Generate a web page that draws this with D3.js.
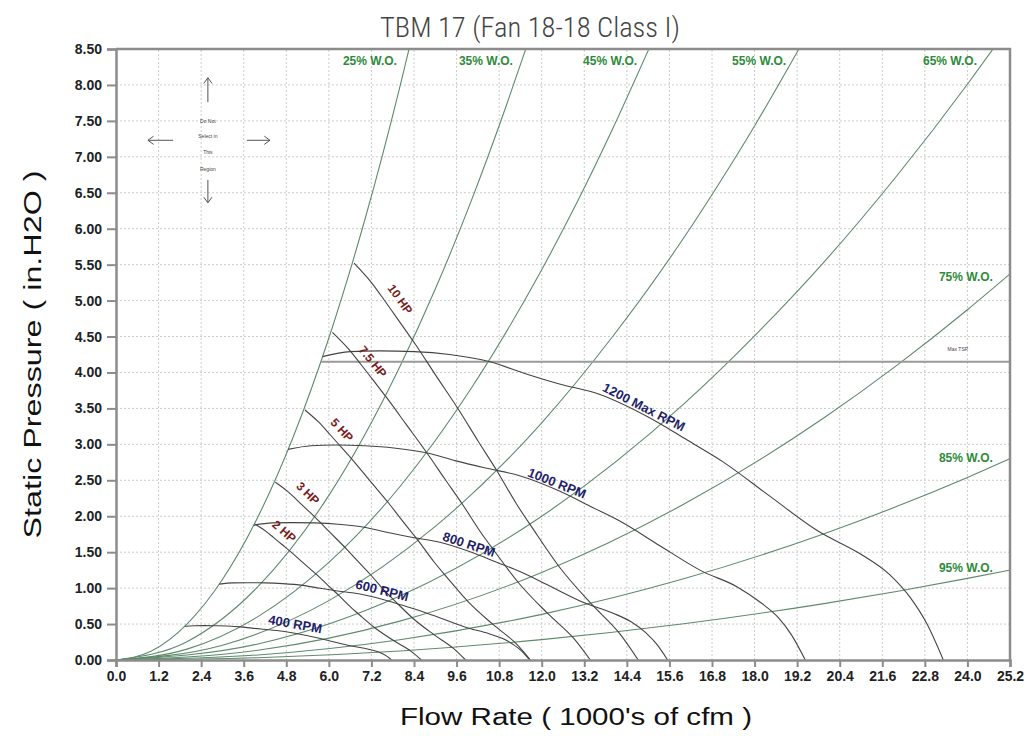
<!DOCTYPE html>
<html>
<head>
<meta charset="utf-8">
<script src="https://cdn.jsdelivr.net/npm/d3@7"></script>
<style>
  html, body { margin: 0; padding: 0; background: #fff; }
  svg { display: block; }
</style>
</head>
<body>
<svg id="chart" width="1036" height="736"></svg>
<script>
// ---------------- DATA ----------------
const chartTitle = "TBM 17 (Fan 18-18 Class I)";
const xTitle = "Flow Rate ( 1000's of cfm )";
const yTitle = "Static Pressure ( in.H2O )";

const xTickValues = [0, 1.2, 2.4, 3.6, 4.8, 6.0, 7.2, 8.4, 9.6, 10.8, 12.0, 13.2, 14.4, 15.6, 16.8, 18.0, 19.2, 20.4, 21.6, 22.8, 24.0, 25.2];
const yTickValues = [0, 0.5, 1, 1.5, 2, 2.5, 3, 3.5, 4, 4.5, 5, 5.5, 6, 6.5, 7, 7.5, 8, 8.5];

// System (wide-open) curves: [flow, pressure]
const wo25 = [[0,0],[1,0.125],[2,0.50],[3,1.12],[4,1.99],[5,3.11],[6,4.48],[7,6.10],[8,7.97],[8.26,8.50]];
const wo35 = [[0,0],[2,0.255],[4,1.02],[6,2.29],[8,4.08],[9,5.16],[10,6.37],[11,7.71],[11.55,8.50]];
const wo45 = [[0,0],[2,0.151],[4,0.603],[6,1.357],[8,2.41],[10,3.77],[12,5.43],[13,6.37],[14,7.39],[15.02,8.50]];
const wo55 = [[0,0],[3,0.206],[6,0.826],[9,1.858],[12,3.30],[14,4.50],[16,5.87],[17,6.63],[18,7.43],[19.25,8.50]];
const wo65 = [[0,0],[4,0.223],[8,0.890],[12,2.00],[16,3.56],[18,4.51],[20,5.56],[22,6.73],[24,8.01],[24.72,8.50]];
const wo75 = [[0,0],[4,0.135],[8,0.541],[12,1.218],[16,2.166],[20,3.384],[22,4.095],[24,4.873],[25.2,5.372]];
const wo85 = [[0,0],[4,0.0706],[8,0.282],[12,0.635],[16,1.129],[20,1.764],[22,2.134],[24,2.540],[25.2,2.800]];
const wo95 = [[0,0],[4,0.0315],[8,0.126],[12,0.284],[16,0.504],[20,0.788],[22,0.953],[24,1.135],[25.2,1.251]];
const woNames = ["25% W.O.", "35% W.O.", "45% W.O.", "55% W.O.", "65% W.O.", "75% W.O.", "85% W.O.", "95% W.O."];
const woLabelPos = [[7.92,8.28],[11.19,8.28],[14.69,8.28],[18.89,8.28],[24.27,8.28],[24.72,5.27],[24.72,2.75],[24.72,1.22]];

// Fan speed curves
const rpm1200 = [[5.82,4.22],[6.60,4.29],[7.44,4.30],[8.40,4.29],[9.40,4.25],[10.54,4.15],[11.50,3.99],[12.50,3.84],[13.60,3.70],[15.00,3.38],[16.10,3.06],[17.10,2.76],[18.40,2.29],[19.80,1.79],[21.00,1.47],[21.80,1.19],[22.40,0.86],[22.85,0.51],[23.32,0]];
const rpm1000 = [[4.85,2.93],[5.50,2.98],[6.20,2.99],[7.00,2.98],[7.83,2.95],[8.78,2.88],[9.58,2.77],[10.42,2.67],[11.33,2.57],[12.50,2.35],[13.42,2.125],[14.25,1.92],[15.33,1.59],[16.50,1.24],[17.50,1.02],[18.17,0.80],[18.67,0.59],[19.04,0.35],[19.43,0]];
const rpm800 = [[3.88,1.875],[4.40,1.907],[4.96,1.911],[5.60,1.907],[6.27,1.889],[7.03,1.844],[7.67,1.773],[8.33,1.707],[9.07,1.644],[10.00,1.502],[10.73,1.360],[11.40,1.227],[12.27,1.018],[13.20,0.796],[14.00,0.653],[14.53,0.529],[14.93,0.382],[15.23,0.227],[15.55,0]];
const rpm600 = [[2.91,1.055],[3.30,1.073],[3.72,1.075],[4.20,1.073],[4.70,1.063],[5.27,1.038],[5.75,0.998],[6.25,0.96],[6.80,0.925],[7.50,0.845],[8.05,0.765],[8.55,0.69],[9.20,0.573],[9.90,0.448],[10.50,0.368],[10.90,0.298],[11.20,0.215],[11.43,0.128],[11.66,0]];
const rpm400 = [[1.94,0.469],[2.20,0.477],[2.48,0.478],[2.80,0.477],[3.13,0.472],[3.51,0.461],[3.83,0.443],[4.17,0.427],[4.53,0.411],[5.00,0.376],[5.37,0.34],[5.70,0.307],[6.13,0.254],[6.60,0.199],[7.00,0.163],[7.27,0.132],[7.47,0.096],[7.62,0.057],[7.77,0]];
const rpmNames = ["1200 Max RPM", "1000 RPM", "800 RPM", "600 RPM", "400 RPM"];
const rpmLabelPos = [[14.88,3.52,27],[12.43,2.46,22],[9.95,1.61,18],[7.50,0.97,14],[5.05,0.50,10]];

// Brake horsepower curves
const hp10 = [[6.71,5.52],[7.2,5.25],[7.6,4.98],[8.0,4.70],[8.4,4.42],[9.0,3.97],[9.7,3.45],[10.2,3.05],[10.74,2.63],[11.29,2.17],[11.76,1.82],[12.52,1.28],[13.40,0.78],[14.21,0.36],[14.72,0]];
const hp75 = [[6.10,4.557],[6.54,4.334],[6.905,4.111],[7.27,3.880],[7.63,3.649],[8.18,3.277],[8.81,2.848],[9.27,2.518],[9.76,2.171],[10.26,1.791],[10.685,1.502],[11.375,1.057],[12.175,0.644],[12.91,0.297],[13.37,0]];
const hp5 = [[5.326,3.478],[5.715,3.308],[6.032,3.137],[6.35,2.961],[6.667,2.785],[7.143,2.501],[7.699,2.174],[8.096,1.922],[8.524,1.657],[8.961,1.367],[9.334,1.147],[9.937,0.806],[10.636,0.491],[11.279,0.227],[11.683,0]];
const hp3 = [[4.492,2.474],[4.820,2.353],[5.087,2.232],[5.355,2.106],[5.623,1.981],[6.025,1.779],[6.493,1.546],[6.828,1.367],[7.189,1.179],[7.558,0.972],[7.872,0.816],[8.381,0.574],[8.970,0.350],[9.512,0.161],[9.854,0]];
const hp2 = [[3.924,1.888],[4.211,1.796],[4.444,1.703],[4.678,1.607],[4.912,1.512],[5.263,1.358],[5.673,1.180],[5.965,1.043],[6.281,0.899],[6.602,0.742],[6.877,0.622],[7.322,0.438],[7.836,0.267],[8.310,0.123],[8.608,0]];
const hpNames = ["10 HP", "7.5 HP", "5 HP", "3 HP", "2 HP"];
const hpLabelPos = [[8.01,5.02,54],[7.24,4.15,51],[6.37,3.20,47],[5.41,2.32,44],[4.74,1.79,41]];

// Max total static pressure line
const maxTsp = [[5.78,4.15],[25.2,4.15]];
const maxTspLabel = ["Max TSP", 23.73, 4.30];

// "Do not select" note
const noteLines = ["Do Not", "Select in", "This", "Region"];
const noteLinePos = [7.50, 7.28, 7.06, 6.83];
const noteCenter = 2.59;
const noteArrows = [[[2.59,7.76],[2.59,8.10]],[[2.59,6.68],[2.59,6.36]],[[1.61,7.23],[0.90,7.23]],[[3.69,7.23],[4.34,7.23]]];

// ---------------- CHART ----------------
const W = 1036, H = 736;
const margin = {left: 116, right: 26, top: 49, bottom: 76};
const svg = d3.select("#chart");

const x = d3.scaleLinear().domain([0, 25.2]).range([margin.left, W - margin.right]);
const y = d3.scaleLinear().domain([0, 8.5]).range([H - margin.bottom, margin.top]);

svg.append("defs").append("clipPath").attr("id", "plotclip")
  .append("rect")
  .attr("x", x(0)).attr("y", y(8.5))
  .attr("width", x(25.2) - x(0)).attr("height", y(0) - y(8.5));

// grid
const grid = svg.append("g").attr("class", "grid");
grid.selectAll("line.vx").data(xTickValues.slice(1, -1)).join("line")
  .attr("x1", d => x(d)).attr("x2", d => x(d))
  .attr("y1", y(0)).attr("y2", y(8.5))
  .attr("stroke", "#cccccc").attr("stroke-width", 1).attr("stroke-dasharray", "2,2");
grid.selectAll("line.hy").data(yTickValues.slice(1, -1)).join("line")
  .attr("x1", x(0)).attr("x2", x(25.2))
  .attr("y1", d => y(d)).attr("y2", d => y(d))
  .attr("stroke", "#cccccc").attr("stroke-width", 1).attr("stroke-dasharray", "2,2");

const line = d3.line().x(d => x(d[0])).y(d => y(d[1])).curve(d3.curveMonotoneX);
const plot = svg.append("g").attr("clip-path", "url(#plotclip)");

// system curves
const woCurves = [wo25, wo35, wo45, wo55, wo65, wo75, wo85, wo95];
plot.selectAll("path.wo").data(woCurves).join("path")
  .attr("class", "wo")
  .attr("d", line).attr("fill", "none")
  .attr("stroke", "#5f8a6c").attr("stroke-width", 1.1);

// Max TSP
plot.append("path").attr("d", d3.line().x(d => x(d[0])).y(d => y(d[1]))(maxTsp))
  .attr("fill", "none").attr("stroke", "#9a9a9a").attr("stroke-width", 2);

// rpm curves
const rpmCurves = [rpm1200, rpm1000, rpm800, rpm600, rpm400];
plot.selectAll("path.rpm").data(rpmCurves).join("path")
  .attr("class", "rpm")
  .attr("d", line).attr("fill", "none")
  .attr("stroke", "#444").attr("stroke-width", 1.1);

// hp curves
const hpCurves = [hp10, hp75, hp5, hp3, hp2];
plot.selectAll("path.hp").data(hpCurves).join("path")
  .attr("class", "hp")
  .attr("d", line).attr("fill", "none")
  .attr("stroke", "#444").attr("stroke-width", 1.1);

// frame (top & right)
svg.append("path")
  .attr("d", `M${x(0)},${y(8.5)}H${x(25.2)}V${y(0)}`)
  .attr("fill", "none").attr("stroke", "#8c8c8c").attr("stroke-width", 2.5);

// axes
const fontTick = "'Liberation Sans', Arial, sans-serif";
const xAxis = svg.append("g").attr("transform", `translate(0,${y(0)})`)
  .call(d3.axisBottom(x).tickValues(xTickValues).tickFormat(d3.format(".1f")).tickSize(7).tickPadding(4));
const yAxis = svg.append("g").attr("transform", `translate(${x(0)},0)`)
  .call(d3.axisLeft(y).tickValues(yTickValues).tickFormat(d3.format(".2f")).tickSize(9).tickPadding(5));
[xAxis, yAxis].forEach(a => {
  a.select(".domain").attr("stroke", "#8c8c8c").attr("stroke-width", 2.5);
  a.selectAll(".tick line").attr("stroke", "#8c8c8c").attr("stroke-width", 2);
  a.selectAll(".tick text").attr("fill", "#222").attr("font-family", fontTick)
    .attr("font-weight", "bold").attr("font-size", 14);
});

// titles
svg.append("text").attr("x", 530).attr("y", 37).attr("text-anchor", "middle")
  .attr("font-family", "'Roboto Condensed', 'Liberation Sans Narrow', Roboto, sans-serif")
  .attr("font-weight", 300).attr("font-size", 28).attr("fill", "#444")
  .attr("textLength", 300).attr("lengthAdjust", "spacingAndGlyphs")
  .text(chartTitle);
svg.append("text").attr("x", 576).attr("y", 725).attr("text-anchor", "middle")
  .attr("font-family", fontTick).attr("font-size", 23).attr("fill", "#111")
  .attr("textLength", 352).attr("lengthAdjust", "spacingAndGlyphs")
  .text(xTitle);
svg.append("text").attr("transform", `translate(41,${(y(0) + y(8.5)) / 2}) rotate(-90)`)
  .attr("text-anchor", "middle")
  .attr("font-family", fontTick).attr("font-size", 23).attr("fill", "#111")
  .attr("textLength", 368).attr("lengthAdjust", "spacingAndGlyphs")
  .text(yTitle);

// W.O. labels
svg.selectAll("text.wo").data(woNames).join("text")
  .attr("x", (d, i) => x(woLabelPos[i][0])).attr("y", (d, i) => y(woLabelPos[i][1]))
  .attr("text-anchor", "end").attr("font-family", fontTick).attr("font-weight", "bold")
  .attr("font-size", 12).attr("fill", "#2e8b3a").text(d => d);

// RPM labels
svg.selectAll("text.rpm").data(rpmNames).join("text")
  .attr("transform", (d, i) => `translate(${x(rpmLabelPos[i][0])},${y(rpmLabelPos[i][1])}) rotate(${rpmLabelPos[i][2]})`)
  .attr("text-anchor", "middle").attr("dy", "0.35em")
  .attr("font-family", fontTick).attr("font-weight", "bold")
  .attr("font-size", 13).attr("fill", "#1f1f6b").text(d => d);

// HP labels
svg.selectAll("text.hp").data(hpNames).join("text")
  .attr("transform", (d, i) => `translate(${x(hpLabelPos[i][0])},${y(hpLabelPos[i][1])}) rotate(${hpLabelPos[i][2]})`)
  .attr("text-anchor", "middle").attr("dy", "0.35em")
  .attr("font-family", fontTick).attr("font-weight", "bold")
  .attr("font-size", 12).attr("fill", "#7a1c1c").text(d => d);

// Max TSP label
svg.append("text").attr("x", x(maxTspLabel[1])).attr("y", y(maxTspLabel[2]))
  .attr("text-anchor", "middle").attr("font-family", fontTick).attr("font-size", 5)
  .attr("fill", "#444").text(maxTspLabel[0]);

// Note
const note = svg.append("g");
note.selectAll("text").data(noteLines).join("text")
  .attr("x", x(noteCenter)).attr("y", (d, i) => y(noteLinePos[i]))
  .attr("dy", "0.35em").attr("text-anchor", "middle")
  .attr("font-family", fontTick).attr("font-size", 5).attr("fill", "#444").text(d => d);
note.selectAll("path").data(noteArrows).join("path")
  .attr("d", d => {
    const x1 = x(d[0][0]), y1 = y(d[0][1]), x2 = x(d[1][0]), y2 = y(d[1][1]);
    const ang = Math.atan2(y2 - y1, x2 - x1), L = 7, a = Math.PI / 5;
    const p1 = [x2 - L * Math.cos(ang - a), y2 - L * Math.sin(ang - a)];
    const p2 = [x2 - L * Math.cos(ang + a), y2 - L * Math.sin(ang + a)];
    return `M${x1},${y1}L${x2},${y2}M${p1[0]},${p1[1]}L${x2},${y2}L${p2[0]},${p2[1]}`;
  })
  .attr("fill", "none").attr("stroke", "#555").attr("stroke-width", 1);
</script>
</body>
</html>
